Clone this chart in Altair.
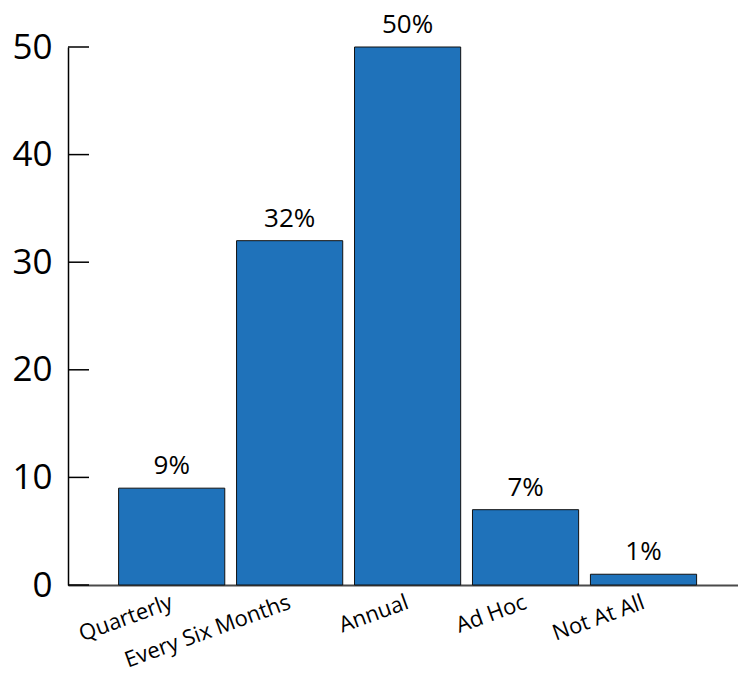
import altair as alt
import pandas as pd

# Survey answers: how often the review is carried out
categories = ["Quarterly", "Every Six Months", "Annual", "Ad Hoc", "Not At All"]
shares = [9, 32, 50, 7, 1]
y_ticks = [0, 10, 20, 30, 40, 50]

df = pd.DataFrame({
    "category": categories,
    "share": shares,
    "label": [f"{v}%" for v in shares],
})
ticks_df = pd.DataFrame({"v": y_ticks})

FONT = "Open Sans"
BLUE = "#1F72BA"

x_enc = alt.X(
    "category:N",
    sort=categories,
    title=None,
    scale=alt.Scale(paddingInner=0.1, paddingOuter=0.39, align=0.55),
    axis=alt.Axis(
        labelAngle=-20,
        labelAlign="right",
        labelBaseline="middle",
        labelPadding=16,
        labelFontSize=22,
        labelFont=FONT,
        labelColor="#000000",
        labelLimit=0,
        labelOverlap=False,
        ticks=False,
        grid=False,
        domainColor="#4a4a4a",
        domainWidth=2,
    ),
)
y_scale = alt.Scale(domain=[0, 50], nice=False)

bars = alt.Chart(df).mark_bar(
    color=BLUE, stroke="#111111", strokeWidth=1
).encode(
    x=x_enc,
    y=alt.Y(
        "share:Q",
        scale=y_scale,
        title=None,
        axis=alt.Axis(
            values=y_ticks,
            grid=False,
            ticks=False,
            labelPadding=16,
            labelFontSize=35,
            labelFont=FONT,
            labelColor="#000000",
            domainColor="#000000",
            domainWidth=1.5,
        ),
    ),
)

text = alt.Chart(df).mark_text(
    baseline="bottom", dy=-9, fontSize=26, font=FONT, color="#000000"
).encode(
    x=alt.X("category:N", sort=categories),
    y=alt.Y("share:Q", scale=y_scale),
    text="label:N",
)

# inward-pointing tick marks on the value axis
tick_marks = alt.Chart(ticks_df).mark_rule(color="#000000", strokeWidth=1.5).encode(
    x=alt.value(0),
    x2=alt.value(21),
    y=alt.Y("v:Q", scale=y_scale),
)

chart = (
    alt.layer(bars, text, tick_marks)
    .properties(
        width=670,
        height=538,
        padding={"left": 68, "top": 47, "right": 0, "bottom": 91},
        autosize=alt.AutoSizeParams(type="none"),
        background="#ffffff",
    )
    .configure_view(stroke=None, strokeWidth=0)
    .configure_axis(grid=False)
)

chart.save("out.html", embed_options={"renderer": "svg", "actions": False})
